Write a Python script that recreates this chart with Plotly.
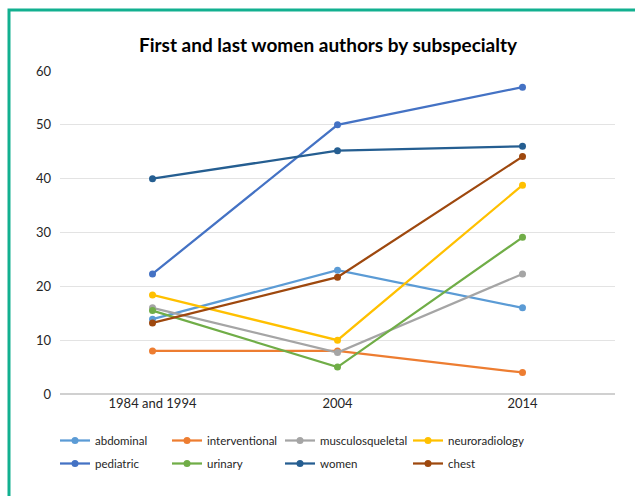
import plotly.graph_objects as go

categories = ["1984 and 1994", "2004", "2014"]
series_names = ["abdominal", "interventional", "musculosqueletal", "neuroradiology",
                "pediatric", "urinary", "women", "chest"]
abdominal = [13.9, 23.0, 16.0]
interventional = [8.0, 8.0, 4.0]
musculosqueletal = [16.0, 7.7, 22.3]
neuroradiology = [18.4, 10.0, 38.8]
pediatric = [22.3, 50.0, 57.0]
urinary = [15.5, 5.0, 29.1]
women = [40.0, 45.2, 46.0]
chest = [13.2, 21.7, 44.1]
y_ticks = [0, 10, 20, 30, 40, 50, 60]

values = [abdominal, interventional, musculosqueletal, neuroradiology,
          pediatric, urinary, women, chest]
colors = ["#5B9BD5", "#ED7D31", "#A5A5A5", "#FFC000",
          "#4472C4", "#70AD47", "#255E91", "#9E480E"]

W, H = 635, 496
L, R, T, B = 60, 20, 71, 102
pw, ph = W - L - R, H - T - B

def px_x(p):
    return (p - L) / pw

def px_y(p):
    return (H - B - p) / ph

col_px = [55, 167, 280, 408]
row_px = [426, 449]

fig = go.Figure()
legends = {}
for i, (name, vals, col) in enumerate(zip(series_names, values, colors)):
    key = "legend" if i == 0 else f"legend{i + 1}"
    fig.add_trace(go.Scatter(
        x=categories, y=vals, name=name, mode="lines+markers",
        line=dict(color=col, width=2.25),
        marker=dict(color=col, size=7),
        legend=key,
    ))
    legends[key] = dict(
        x=px_x(col_px[i % 4]), y=px_y(row_px[i // 4]),
        xanchor="left", yanchor="top", orientation="h",
        font=dict(family="Lato, sans-serif", size=11.5, color="#262626"),
        itemwidth=30, bgcolor="rgba(0,0,0,0)",
    )

fig.update_layout(
    width=W, height=H,
    margin=dict(l=L, r=R, t=T, b=B),
    paper_bgcolor="white", plot_bgcolor="white",
    font=dict(family="Lato, Open Sans, sans-serif", size=13, color="#404040"),
    title=dict(text="<b>First and last women authors by subspecialty</b>",
               x=px_x(328), xanchor="center", xref="paper",
               y=1 - 45 / H, yanchor="middle",
               font=dict(size=19, color="#000000")),
    showlegend=True,
    xaxis=dict(type="category", range=[-0.5, 2.5], showgrid=False,
               showline=False, ticks="",
               tickfont=dict(size=13, color="#262626"), zeroline=False),
    yaxis=dict(range=[0, 60], tickvals=y_ticks, showgrid=True,
               gridcolor="#E3E3E3", gridwidth=1, zeroline=True,
               zerolinecolor="#D0D0D0", zerolinewidth=1.5,
               tickfont=dict(size=13, color="#262626"), ticks="",
               ticklabelstandoff=8),
    shapes=[dict(type="rect", xref="paper", yref="paper",
                 x0=px_x(9), x1=px_x(W + 20), y0=px_y(H + 20), y1=px_y(10),
                 line=dict(color="#12B090", width=3), fillcolor="rgba(0,0,0,0)",
                 layer="above")],
    **legends,
)

fig.write_html("out.html")
